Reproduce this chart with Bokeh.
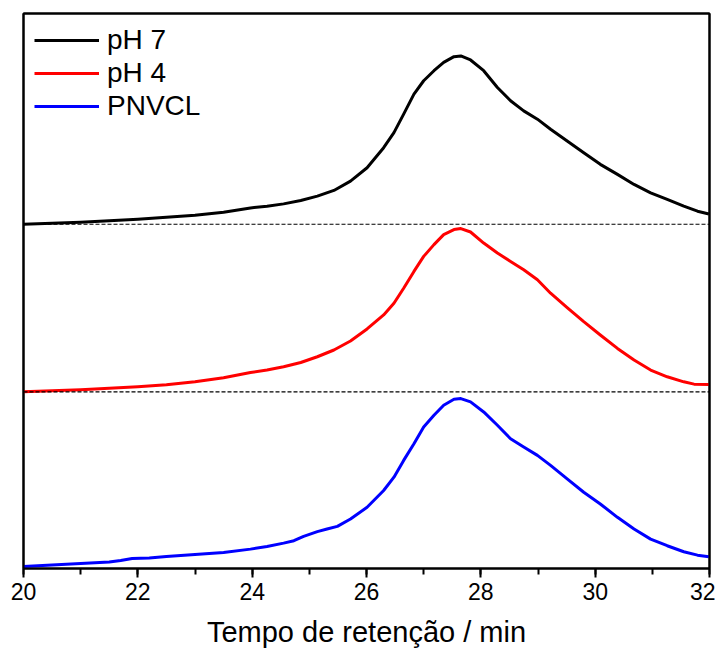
from bokeh.plotting import figure
from bokeh.models import Range1d, SingleIntervalTicker, Legend, LegendItem, Span, LinearAxis
from bokeh.embed import file_html
from bokeh.resources import INLINE

# ---- data (retention time in min, detector signal in arbitrary units above each trace's baseline)
t_ph7 = [20, 20.5, 21, 21.5, 22, 22.5, 23, 23.5, 23.97, 24.26, 24.55, 24.85, 25.14, 25.43,
         25.72, 26.01, 26.30, 26.48, 26.65, 26.83, 27.00, 27.18, 27.35, 27.53, 27.65, 27.82,
         28.05, 28.29, 28.52, 28.75, 28.99, 29.22, 29.51, 29.80, 30.09, 30.39, 30.68, 30.97,
         31.26, 31.55, 31.79, 31.99]
s_ph7 = [0, 1, 2, 3.5, 5, 7, 9, 12, 16.3, 18, 20.3, 23.7, 28, 33.7,
         43, 56.3, 76.3, 91.3, 109.7, 129.7, 143, 153, 161.3, 167, 167.7, 163.7,
         153, 136.3, 123, 113, 104.7, 94.7, 83, 71.3, 59.7, 49.7, 39.7, 31.3,
         24.7, 18, 13, 10.3]

t_ph4 = [20, 20.5, 21, 21.5, 22, 22.5, 23, 23.5, 23.97, 24.26, 24.55, 24.85, 25.14, 25.43,
         25.72, 26.01, 26.30, 26.48, 26.65, 26.83, 27.00, 27.18, 27.35, 27.53, 27.65, 27.82,
         28.05, 28.29, 28.52, 28.75, 28.99, 29.22, 29.51, 29.80, 30.09, 30.39, 30.68, 30.97,
         31.26, 31.55, 31.73, 31.99]
s_ph4 = [0, 1, 2, 3.5, 5, 7, 10, 14, 19.3, 21.7, 25, 29.3, 35, 41.7,
         50.7, 62.7, 76.7, 88.3, 103.3, 120, 135, 146.7, 156.7, 161.7, 162.7, 159.3,
         148.3, 138.3, 130, 121.7, 111.7, 98.3, 84, 70, 56.7, 43.3, 31.7, 21.7,
         15, 10, 7.7, 7.3]

t_pnvcl = [20, 20.5, 21, 21.5, 21.7, 21.9, 22.2, 22.5, 23, 23.5,
           23.97, 24.26, 24.55, 24.73, 24.90, 25.14, 25.31, 25.49, 25.72, 26.01,
           26.30, 26.48, 26.65, 26.83, 27.00, 27.18, 27.35, 27.53, 27.65, 27.82,
           28.05, 28.29, 28.52, 28.75, 28.99, 29.22, 29.51, 29.80, 30.09, 30.39,
           30.68, 30.97, 31.26, 31.55, 31.79, 31.99]
s_pnvcl = [2, 3.5, 5, 6.5, 8, 10, 10.5, 12, 14, 16,
           19.3, 22, 25.3, 27.7, 32, 36.7, 39.3, 42, 49.3, 61,
           77.7, 91, 107.7, 124.3, 141, 152.7, 162.7, 168.7, 169.3, 166,
           156, 142.7, 129.3, 121, 112.7, 102.7, 89.3, 76, 64.3, 51,
           39.3, 29.3, 22.7, 16.7, 13.3, 11.7]

# vertical offsets of the stacked traces (same units)
offset_ph7 = 343
offset_ph4 = 176
offset_pnvcl = 0

series_names = ["pH 7", "pH 4", "PNVCL"]
series_colors = ["black", "red", "blue"]

X_START, X_END = 20, 32
Y_START, Y_END = 0, 553

FONT = "Liberation Sans"

p = figure(width=715, height=650, output_backend="svg", toolbar_location=None,
           x_range=Range1d(X_START, X_END), y_range=Range1d(Y_START, Y_END),
           min_border_left=23, min_border_top=13, min_border_right=6)

p.xgrid.visible = False
p.ygrid.visible = False
p.outline_line_color = "black"
p.outline_line_width = 2
p.outline_line_alpha = 1.0
p.background_fill_color = "white"
p.border_fill_color = "white"

# baselines
for off in [offset_ph7, offset_ph4]:
    p.add_layout(Span(location=off, dimension="width", line_color="black",
                      line_width=1.2, line_dash="4 2"))

traces = [(t_ph7, s_ph7, offset_ph7), (t_ph4, s_ph4, offset_ph4), (t_pnvcl, s_pnvcl, offset_pnvcl)]
renderers = []
for (t, s, off), c in zip(traces, series_colors):
    r = p.line(t, [v + off for v in s], line_color=c, line_width=3, line_join="round")
    renderers.append(r)

legend = Legend(items=[LegendItem(label=n, renderers=[r]) for n, r in zip(series_names, renderers)],
                location="top_left")
legend.border_line_color = None
legend.background_fill_alpha = 0
legend.label_text_font = FONT
legend.label_text_font_size = "28px"
legend.label_text_color = "black"
legend.glyph_width = 65
legend.glyph_height = 28
legend.label_height = 28
legend.spacing = 1
legend.padding = 0
legend.margin = 11
legend.label_standoff = 8
p.add_layout(legend)

# x axis
ax = p.xaxis[0]
ax.ticker = SingleIntervalTicker(interval=2, num_minor_ticks=2)
ax.axis_label = "Tempo de retenção / min"
ax.axis_label_text_font = FONT
ax.axis_label_text_font_style = "normal"
ax.axis_label_text_font_size = "29px"
ax.axis_label_text_color = "black"
ax.axis_label_standoff = 13
ax.major_label_text_font = FONT
ax.major_label_text_font_size = "23px"
ax.major_label_text_color = "black"
ax.axis_line_width = 2
ax.major_tick_line_width = 2
ax.minor_tick_line_width = 2
ax.major_tick_out = 9
ax.major_tick_in = 0
ax.minor_tick_out = 6
ax.minor_tick_in = 0
ax.axis_line_color = "black"
ax.major_tick_line_color = "black"
ax.minor_tick_line_color = "black"

# left axis: line only (default ticker kept, ticks and labels hidden)
ya = p.yaxis[0]
ya.axis_line_color = "black"
ya.axis_line_width = 2
ya.major_tick_line_color = None
ya.minor_tick_line_color = None
ya.major_label_text_font_size = "0px"
ya.major_label_standoff = 0

# top and right frame edges as line-only axes
for side in ["above", "right"]:
    a = LinearAxis(axis_line_color="black", axis_line_width=2,
                   major_tick_line_color=None, minor_tick_line_color=None,
                   major_label_text_font_size="0px", major_label_standoff=0)
    p.add_layout(a, side)

open("out.html", "w").write(file_html(p, INLINE))
